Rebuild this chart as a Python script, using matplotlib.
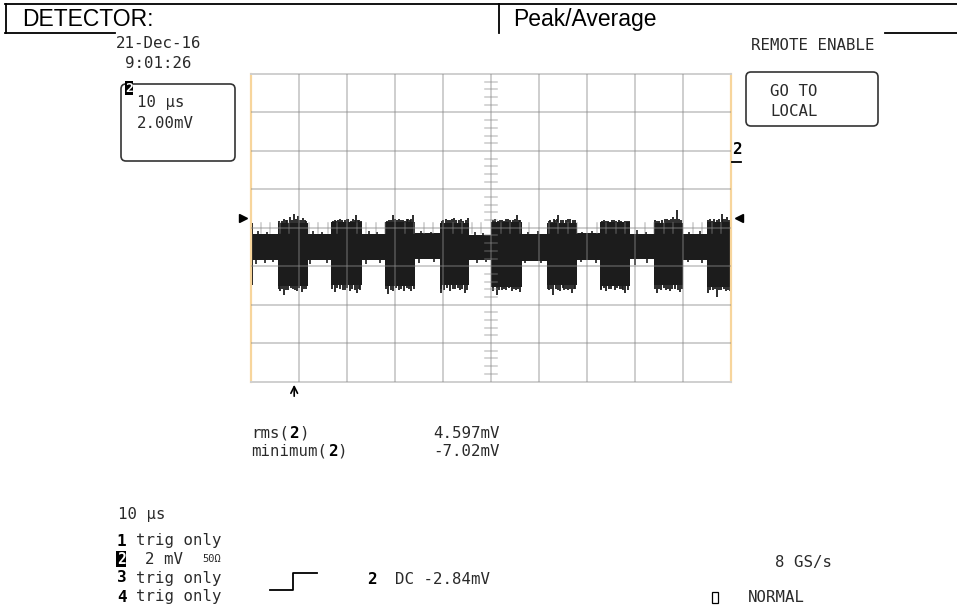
import matplotlib
matplotlib.use('Agg')
import matplotlib.pyplot as plt
from matplotlib.patches import FancyBboxPatch, Rectangle

# 示波器屏幕参数：10 µs/div, 2 mV/div
t_span = 100.0
v_span = 8.0

# 突发段（时间 µs）与包络（mV）
burst_start = [5.6, 16.7, 28.0, 39.3, 50.1, 61.6, 72.7, 83.9, 95.1]
burst_end = [11.9, 23.1, 34.1, 45.4, 56.5, 67.9, 79.0, 90.0, 100.0]
burst_top = [0.24, 0.28, 0.30, 0.26, 0.30, 0.24, 0.28, 0.26, 0.30]
burst_bot = [-3.05, -3.00, -3.05, -3.00, -3.10, -3.00, -3.05, -3.00, -3.10]

# 突发之间的安静段
quiet_start = [0.4, 11.9, 23.1, 34.1, 45.4, 56.5, 67.9, 79.0, 90.0]
quiet_end = [5.6, 16.7, 28.0, 39.3, 50.1, 61.6, 72.7, 83.9, 95.1]
quiet_top = [-0.30, -0.35, -0.30, -0.28, -0.38, -0.32, -0.28, -0.30, -0.30]
quiet_bot = [-1.70, -1.68, -1.70, -1.65, -1.70, -1.72, -1.68, -1.65, -1.68]

# 开头的残余突发
head_t = [0.0, 0.4]
head_top = 0.25
head_bot = -3.0

# 毛刺（时间 µs, 幅度 mV）
spike_up_t = [5.9, 6.4, 6.8, 7.2, 7.6, 8.1, 8.6, 9.0, 9.4, 9.8, 10.1, 10.4, 10.9, 11.2, 11.5,
              17.0, 17.4, 17.8, 18.2, 18.6, 19.0, 19.5, 20.0, 20.3, 20.8, 21.2, 21.6, 21.9, 22.2, 22.5, 22.9,
              28.4, 28.8, 29.2, 29.6, 30.0, 30.4, 30.9, 31.3, 31.7, 32.0, 32.4, 32.7, 33.1, 33.4, 33.75,
              39.7, 40.1, 40.6, 41.0, 41.4, 41.9, 42.3, 42.8, 43.3, 43.7, 44.2, 44.7, 45.2,
              50.5, 50.9, 51.4, 51.9, 52.3, 52.7, 53.2, 53.6, 54.0, 54.5, 55.0, 55.4, 55.8, 56.1,
              62.0, 62.3, 62.7, 63.1, 63.4, 63.7, 64.0, 64.5, 65.1, 65.6, 66.1, 66.5, 67.0, 67.4,
              73.2, 73.6, 74.0, 74.4, 74.8, 75.2, 75.7, 76.1, 76.6, 77.0, 77.4, 77.9, 78.3, 78.7,
              84.2, 84.6, 85.1, 85.6, 86.2, 86.6, 87.0, 87.5, 88.0, 88.4, 88.75, 89.1, 89.5,
              95.2, 95.6, 96.0, 96.5, 97.0, 97.5, 98.1, 98.4, 98.7, 99.2, 99.6]
spike_up_v = [0.35, 0.36, 0.44, 0.42, 0.38, 0.57, 0.40, 0.74, 0.46, 0.60, 0.42, 0.38, 0.50, 0.40, 0.36,
              0.33, 0.40, 0.36, 0.39, 0.44, 0.42, 0.38, 0.45, 0.48, 0.36, 0.44, 0.40, 0.65, 0.42, 0.40, 0.36,
              0.35, 0.42, 0.38, 0.65, 0.44, 0.38, 0.46, 0.42, 0.38, 0.36, 0.44, 0.48, 0.40, 0.45, 0.65,
              0.36, 0.42, 0.45, 0.40, 0.38, 0.44, 0.53, 0.40, 0.40, 0.46, 0.36, 0.42, 0.49,
              0.38, 0.44, 0.36, 0.40, 0.42, 0.36, 0.44, 0.48, 0.40, 0.42, 0.46, 0.65, 0.42, 0.40,
              0.34, 0.40, 0.30, 0.44, 0.40, 0.46, 0.65, 0.42, 0.42, 0.38, 0.44, 0.48, 0.40, 0.38,
              0.36, 0.38, 0.33, 0.36, 0.30, 0.38, 0.38, 0.34, 0.39, 0.36, 0.32, 0.37, 0.35, 0.34,
              0.40, 0.36, 0.35, 0.42, 0.48, 0.44, 0.40, 0.46, 0.56, 0.44, 0.91, 0.46, 0.42,
              0.40, 0.44, 0.36, 0.46, 0.42, 0.48, 0.74, 0.44, 0.45, 0.56, 0.42]
spike_dn_t = [5.8, 6.0, 6.4, 6.9, 7.3, 7.8, 8.3, 8.75, 9.1, 9.5, 10.0, 10.6, 11.0, 11.5,
              16.9, 17.5, 18.0, 18.6, 19.1, 19.6, 20.1, 20.7, 21.1, 21.6, 22.0, 22.4, 22.7,
              28.2, 28.5, 29.1, 29.6, 30.2, 30.8, 31.3, 31.9, 32.4, 32.9, 33.4, 33.9,
              39.5, 39.65, 40.3, 40.9, 41.5, 42.1, 42.6, 43.1, 43.6, 44.0, 44.5, 45.1,
              50.4, 51.2, 51.7, 52.2, 52.7, 53.2, 53.8, 54.3, 54.8, 55.2, 55.6, 56.0,
              61.8, 62.0, 62.5, 63.0, 63.5, 64.0, 64.4, 64.9, 65.3, 65.7, 66.0, 66.4, 66.8, 67.2, 67.6,
              72.9, 73.0, 73.5, 74.0, 74.5, 75.0, 75.8, 76.3, 76.8, 77.3, 77.6, 78.0, 78.6,
              84.1, 84.6, 85.0, 85.5, 86.0, 86.4, 86.9, 87.3, 87.8, 88.3, 88.9, 89.4, 89.8,
              95.2, 95.7, 96.2, 96.6, 97.1, 97.5, 98.0, 98.5, 99.0, 99.4, 99.85]
spike_dn_v = [-3.20, -3.30, -3.18, -3.50, -3.22, -3.25, -3.15, -3.20, -3.24, -3.28, -3.16, -3.32, -3.18, -3.20,
              -3.20, -3.33, -3.15, -3.20, -3.22, -3.25, -3.16, -3.30, -3.18, -3.22, -3.41, -3.18, -3.22,
              -3.20, -3.46, -3.25, -3.30, -3.16, -3.22, -3.18, -3.28, -3.15, -3.20, -3.29, -3.20,
              -3.18, -3.37, -3.22, -3.16, -3.28, -3.18, -3.20, -3.15, -3.25, -3.20, -3.41, -3.22,
              -3.30, -3.50, -3.22, -3.25, -3.18, -3.22, -3.16, -3.30, -3.20, -3.22, -3.18, -3.32,
              -3.18, -3.25, -3.20, -3.50, -3.18, -3.22, -3.28, -3.16, -3.22, -3.18, -3.25, -3.20, -3.37, -3.18, -3.20,
              -3.18, -3.22, -3.16, -3.28, -3.18, -3.20, -3.25, -3.16, -3.20, -3.18, -3.22, -3.37, -3.22,
              -3.20, -3.41, -3.18, -3.22, -3.16, -3.25, -3.20, -3.28, -3.18, -3.20, -3.22, -3.33, -3.18,
              -3.37, -3.22, -3.25, -3.20, -3.59, -3.22, -3.25, -3.20, -3.28, -3.22, -3.29]
quiet_up_t = [1.5, 3.4, 13.0, 14.8, 24.5, 26.2, 35.5, 37.6, 46.7, 48.3,
              57.8, 59.8, 69.0, 71.0, 80.5, 82.2, 91.3, 93.5]
quiet_up_v = [-0.15, -0.20, -0.18, -0.22, -0.18, -0.20, -0.15, -0.20, -0.20, -0.25,
              -0.20, -0.18, -0.20, -0.15, -0.10, -0.20, -0.20, -0.18]
quiet_dn_t = [1.0, 2.9, 4.6, 12.3, 15.8, 24.0, 26.8, 35.0, 38.2, 47.0,
              49.0, 57.0, 60.5, 68.8, 71.8, 80.0, 82.5, 91.0, 94.0]
quiet_dn_v = [-1.90, -1.85, -1.80, -1.90, -1.85, -1.90, -1.85, -1.85, -1.80, -1.85,
              -1.80, -1.85, -1.85, -1.80, -1.85, -1.95, -1.85, -1.80, -1.85]

trig_level = 0.5
cursor_t = 9.0

trace = '#1c1c1c'
W, H = 957, 610

fig = plt.figure(figsize=(W / 100, H / 100), dpi=100)
fig.patch.set_facecolor('white')

# 网格区域
ax = fig.add_axes([251 / W, (H - 381.5) / H, 480 / W, 307.5 / H])
ax.set_xlim(0, t_span)
ax.set_ylim(-v_span, v_span)
ax.set_xticks([])
ax.set_yticks([])
for side in ['left', 'right']:
    ax.spines[side].set_color('#f7d59c')
    ax.spines[side].set_linewidth(1.6)
for side in ['top', 'bottom']:
    ax.spines[side].set_color('#cfcfcf')
    ax.spines[side].set_linewidth(1.4)

# 波形
ax.fill_between(head_t, [head_bot] * 2, [head_top] * 2, color=trace, lw=0, zorder=2)
for t0, t1, lo, hi in zip(quiet_start, quiet_end, quiet_bot, quiet_top):
    ax.fill_between([t0, t1], [lo, lo], [hi, hi], color=trace, lw=0, zorder=2)
for t0, t1, lo, hi in zip(burst_start, burst_end, burst_bot, burst_top):
    ax.fill_between([t0, t1], [lo, lo], [hi, hi], color=trace, lw=0, zorder=2)
ax.vlines(spike_up_t, -1.0, spike_up_v, color=trace, lw=1.3, zorder=2)
ax.vlines(spike_dn_t, -1.0, spike_dn_v, color=trace, lw=1.3, zorder=2)
ax.vlines(quiet_up_t, -1.0, quiet_up_v, color=trace, lw=1.2, zorder=2)
ax.vlines(quiet_dn_t, -1.0, quiet_dn_v, color=trace, lw=1.2, zorder=2)

# 网格线画在波形之上
gc = dict(color='#8a8a8a', alpha=0.45, lw=1.3, zorder=3)
for k in range(1, 10):
    ax.axvline(k * 10, **gc)
for k in range(-3, 4):
    ax.axhline(k * 2, **gc)

# 中心十字刻度
tc = dict(color='#8a8a8a', alpha=0.45, lw=1.1, zorder=3)
for k in range(-20, 21):
    if k % 5:
        y = k * 0.4
        ax.plot([48.85, 51.15], [y, y], **tc)
for k in range(1, 50):
    if k % 5:
        x = k * 2.0
        ax.plot([x, x], [-0.26, 0.26], **tc)

# 触发电平标记
ax.plot([-1.6], [trig_level], marker='>', color='black', ms=6, clip_on=False, zorder=5)
ax.plot([101.6], [trig_level], marker='<', color='black', ms=6, clip_on=False, zorder=5)

# 覆盖层：像素坐标
ov = fig.add_axes([0, 0, 1, 1], facecolor='none')
ov.set_xlim(0, W)
ov.set_ylim(H, 0)
ov.axis('off')

mono = 'DejaVu Sans Mono'
tk = dict(family=mono, fontsize=11.3, color='#2a2a2a', va='center', ha='left')
bk = dict(family=mono, fontsize=11.5, color='black', va='center', ha='left', fontweight='bold')

# 顶部表头
lk = dict(color='black', lw=1.3)
ov.plot([5, W], [4, 4], **lk)
ov.plot([5.5, 5.5], [4, 33], **lk)
ov.plot([5, 115], [33, 33], **lk)
ov.plot([499, 499], [4, 33], **lk)
ov.plot([885, W], [33, 33], **lk)
ov.text(22, 19.5, 'DETECTOR:', family='Liberation Sans', fontsize=16.5, va='center', ha='left')
ov.text(513, 19.5, 'Peak/Average', family='Liberation Sans', fontsize=16.5, va='center', ha='left')

# 日期时间
ov.text(116, 43, '21-Dec-16', **tk)
ov.text(125, 63, '9:01:26', **tk)

# 通道2信息框
ov.add_patch(FancyBboxPatch((121, 84), 114, 77, boxstyle='round,pad=0,rounding_size=5',
                            fc='white', ec='#333333', lw=1.2))
ov.add_patch(Rectangle((125, 81), 8, 14, fc='black', ec='none'))
ov.text(129, 88, '2', family=mono, fontsize=9.5, fontweight='bold', color='white',
        va='center', ha='center')
ov.text(137, 103, '10 µs', **tk)
ov.text(137, 123, '2.00mV', **tk)

# 右上
ov.text(751, 45, 'REMOTE ENABLE', **tk)
ov.add_patch(FancyBboxPatch((746, 72), 132, 54, boxstyle='round,pad=0,rounding_size=5',
                            fc='white', ec='#333333', lw=1.2))
ov.text(770, 92, 'GO TO', **tk)
ov.text(770, 112, 'LOCAL', **tk)

# 通道标签
ov.text(732, 150, '2', **bk)
ov.plot([732, 741], [161.5, 161.5], color='black', lw=1.3)

# 光标箭头
cx = 251 + cursor_t * 4.8
ov.annotate('', xy=(cx, 382), xytext=(cx, 399),
            arrowprops=dict(arrowstyle='->', lw=1.2, color='black', mutation_scale=12))

# 测量结果
ov.text(251, 433, 'rms(', **tk)
ov.text(251 + 4 * 9.6, 433, '2', **bk)
ov.text(251 + 5 * 9.6, 433, ')', **tk)
ov.text(433, 433, '4.597mV', **tk)
ov.text(251, 451, 'minimum(', **tk)
ov.text(251 + 8 * 9.6, 451, '2', **bk)
ov.text(251 + 9 * 9.6, 451, ')', **tk)
ov.text(433, 451, '-7.02mV', **tk)

# 底部通道状态
ov.text(118, 514, '10 µs', **tk)
ov.text(117, 541, '1', **bk)
ov.text(136, 541, 'trig only', **tk)
ov.add_patch(Rectangle((116, 551), 10, 16, fc='black', ec='none'))
ov.text(121, 559, '2', family=mono, fontsize=10.5, fontweight='bold', color='white',
        va='center', ha='center')
ov.text(145, 559, '2 mV', **tk)
ov.text(202, 559, '50Ω', family=mono, fontsize=7.5, color='#2a2a2a', va='center', ha='left')
ov.text(117, 578, '3', **bk)
ov.text(136, 578, 'trig only', **tk)
ov.text(117, 597, '4', **bk)
ov.text(136, 597, 'trig only', **tk)

# 触发沿符号
ov.plot([270, 293, 293, 317], [590, 590, 573, 573], color='black', lw=1.3)
ov.text(367, 579, '2', **bk)
ov.text(395, 579, 'DC -2.84mV', **tk)

ov.text(775, 562, '8 GS/s', **tk)
ov.add_patch(Rectangle((712, 592), 6, 11, fc='white', ec='black', lw=0.9))
ov.text(748, 598, 'NORMAL', **tk)

plt.savefig('out.png', dpi=100)
